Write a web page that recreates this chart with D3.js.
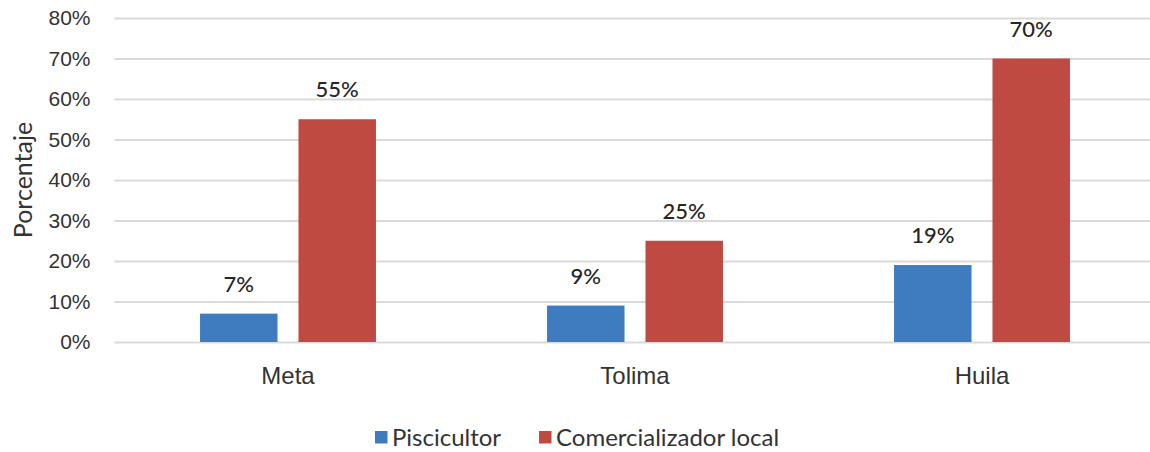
<!DOCTYPE html>
<html>
<head>
<meta charset="utf-8">
<script src="https://cdn.jsdelivr.net/npm/d3@7"></script>
<style>
  body { margin: 0; background: #fff; }
  svg { display: block; font-family: Lato, "Open Sans", sans-serif; }
</style>
</head>
<body>
<script>
(function(){
//chart data
var categories = ["Meta", "Tolima", "Huila"];
var seriesNames = ["Piscicultor", "Comercializador local"];
var piscicultor = [0.07, 0.09, 0.19];
var comercializador = [0.55, 0.25, 0.70];
var yTicks = [0, 0.1, 0.2, 0.3, 0.4, 0.5, 0.6, 0.7, 0.8];
var colors = ["#3f7cbf", "#bf4a42"];

window.onload = drawChart();

function drawChart(){
    var width = 1150,
        height = 452;

    var svg = d3.select("body")
        .append("svg")
        .attr("width", width)
        .attr("height", height);

    //table built from the arrays
    var rows = categories.map(function(c, i){
        return { cat: c, values: [piscicultor[i], comercializador[i]] };
    });

    var x = d3.scaleBand()
        .domain(categories)
        .range([114.5, 1155.5])
        .paddingInner(0.493)
        .paddingOuter(0.2465);

    var xSub = d3.scaleBand()
        .domain(seriesNames)
        .range([0, x.bandwidth()])
        .paddingInner(0.213);

    var y = d3.scaleLinear()
        .domain([0, 0.8])
        .range([342, 18]);

    var fmt = d3.format(".0%");

    //gridlines + y labels
    var yAxis = d3.axisLeft(y)
        .tickValues(yTicks)
        .tickFormat(fmt)
        .tickSize(-(1155.5 - 114.5))
        .tickPadding(24);

    var gy = svg.append("g")
        .attr("transform", "translate(114.5,0)")
        .call(yAxis);
    gy.select(".domain").remove();
    gy.selectAll(".tick line")
        .attr("stroke", "#d9d9d9")
        .attr("stroke-width", 2);
    gy.selectAll(".tick text")
        .attr("fill", "#333")
        .attr("font-size", 21);

    //y title
    svg.append("text")
        .attr("transform", "translate(32,180) rotate(-90)")
        .attr("text-anchor", "middle")
        .attr("fill", "#333")
        .attr("font-size", 25)
        .text("Porcentaje");

    //x labels
    var xAxis = d3.axisBottom(x).tickSize(0).tickPadding(0);
    var gx = svg.append("g")
        .attr("transform", "translate(0,376)")
        .call(xAxis);
    gx.select(".domain").remove();
    gx.selectAll(".tick text")
        .attr("fill", "#333")
        .attr("font-size", 24)
        .attr("dy", "0.35em");

    //bars
    var groups = svg.selectAll(".group")
        .data(rows)
        .enter()
        .append("g")
        .attr("class", "group")
        .attr("transform", function(d){ return "translate(" + x(d.cat) + ",0)"; });

    groups.selectAll("rect")
        .data(function(d){
            return d.values.map(function(v, i){ return { name: seriesNames[i], value: v, idx: i }; });
        })
        .enter()
        .append("rect")
        .attr("x", function(d){ return xSub(d.name); })
        .attr("y", function(d){ return y(d.value); })
        .attr("width", xSub.bandwidth())
        .attr("height", function(d){ return y(0) - y(d.value); })
        .attr("fill", function(d){ return colors[d.idx]; });

    groups.selectAll(".lbl")
        .data(function(d){
            return d.values.map(function(v, i){ return { name: seriesNames[i], value: v }; });
        })
        .enter()
        .append("text")
        .attr("class", "lbl")
        .attr("x", function(d){ return xSub(d.name) + xSub.bandwidth() / 2; })
        .attr("y", function(d){ return y(d.value) - 22; })
        .attr("text-anchor", "middle")
        .attr("fill", "#262626")
        .attr("font-size", 22)
        .attr("font-weight", 500)
        .text(function(d){ return fmt(d.value); });

    //legend
    var legendX = [375, 539];
    var legend = svg.selectAll(".legend")
        .data(seriesNames)
        .enter()
        .append("g")
        .attr("class", "legend")
        .attr("transform", function(d, i){ return "translate(" + legendX[i] + ",431)"; });

    legend.append("rect")
        .attr("width", 12.5)
        .attr("height", 12.5)
        .attr("fill", function(d, i){ return colors[i]; });

    legend.append("text")
        .attr("x", 17)
        .attr("y", 7)
        .attr("dy", "0.35em")
        .attr("fill", "#333")
        .attr("font-size", 24)
        .text(function(d){ return d; });
};
})();
</script>
</body>
</html>
